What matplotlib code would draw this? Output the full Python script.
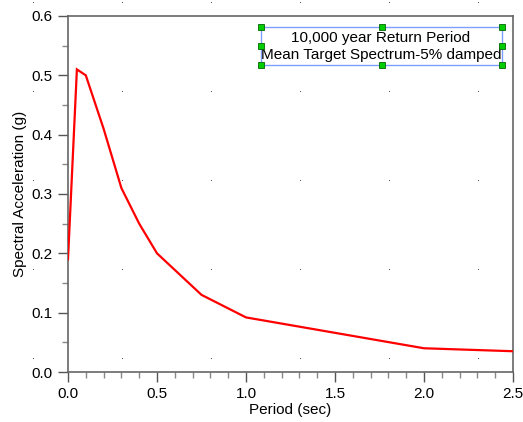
import matplotlib
matplotlib.use("Agg")
import matplotlib.pyplot as plt
from matplotlib.patches import Rectangle
from matplotlib.ticker import MultipleLocator

plt.rcParams["font.family"] = ["Liberation Sans", "DejaVu Sans"]

# target spectrum
period = [0.0, 0.05, 0.1, 0.2, 0.3, 0.4, 0.5, 0.75, 1.0, 2.0, 2.5]
accel = [0.19, 0.51, 0.50, 0.41, 0.31, 0.25, 0.20, 0.13, 0.092, 0.04, 0.035]

title_lines = ["10,000 year Return Period", "Mean Target Spectrum-5% damped"]

W, H = 523, 422
fig = plt.figure(figsize=(W / 100, H / 100), dpi=100)
ax = fig.add_axes([68 / W, 1 - 372 / H, 445 / W, 356 / H])

# editor snap-grid dots (pixel positions)
gx = [33, 122, 211, 300, 389, 478]
gy = [3, 92, 181, 270, 359]
for x in gx:
    for y in gy:
        fig.patches.append(Rectangle((x / W, 1 - y / H), 1 / W, 1 / H,
                                     transform=fig.transFigure, color="#555555",
                                     lw=0, zorder=0))

ax.plot(period, accel, color="#ff0000", lw=1.6, solid_joinstyle="miter", zorder=3)

ax.set_xlim(0, 2.5)
ax.set_ylim(0, 0.6)
ax.xaxis.set_major_locator(MultipleLocator(0.5))
ax.xaxis.set_minor_locator(MultipleLocator(0.1))
ax.yaxis.set_major_locator(MultipleLocator(0.1))
ax.yaxis.set_minor_locator(MultipleLocator(0.05))
ax.xaxis.set_major_formatter(lambda v, p: f"{v:.1f}")
ax.yaxis.set_major_formatter(lambda v, p: f"{v:.1f}")
ax.tick_params(which="major", direction="out", length=7, width=1, color="#555555",
               labelsize=11, pad=4, top=False, right=False)
ax.tick_params(which="minor", direction="out", length=4, width=1, color="#888888",
               top=False, right=False)
for s in ax.spines.values():
    s.set_color("#666666")
    s.set_linewidth(1.2)

ax.set_xlabel("Period (sec)", fontsize=11, labelpad=1)
ax.set_ylabel("Spectral Acceleration (g)", fontsize=11, labelpad=3)

# selected text box
bx0, by0, bx1, by1 = 261, 27, 502, 65
fig.patches.append(Rectangle((bx0 / W, 1 - by1 / H), (bx1 - bx0) / W, (by1 - by0) / H,
                             transform=fig.transFigure, fill=False,
                             edgecolor="#7f9fff", lw=1, zorder=5))
fig.text(381 / W, 1 - 46.5 / H, "\n".join(title_lines), ha="center", va="center",
         fontsize=11, linespacing=1.3, zorder=6)
for hx in [bx0, (bx0 + bx1) / 2, bx1]:
    for hy in [by0, (by0 + by1) / 2, by1]:
        if hx == (bx0 + bx1) / 2 and hy == (by0 + by1) / 2:
            continue
        fig.patches.append(Rectangle(((hx - 3) / W, 1 - (hy + 3) / H), 6 / W, 6 / H,
                                     transform=fig.transFigure, facecolor="#00cc00",
                                     edgecolor="#006600", lw=0.6, zorder=7))

fig.savefig("out.png", dpi=100)
